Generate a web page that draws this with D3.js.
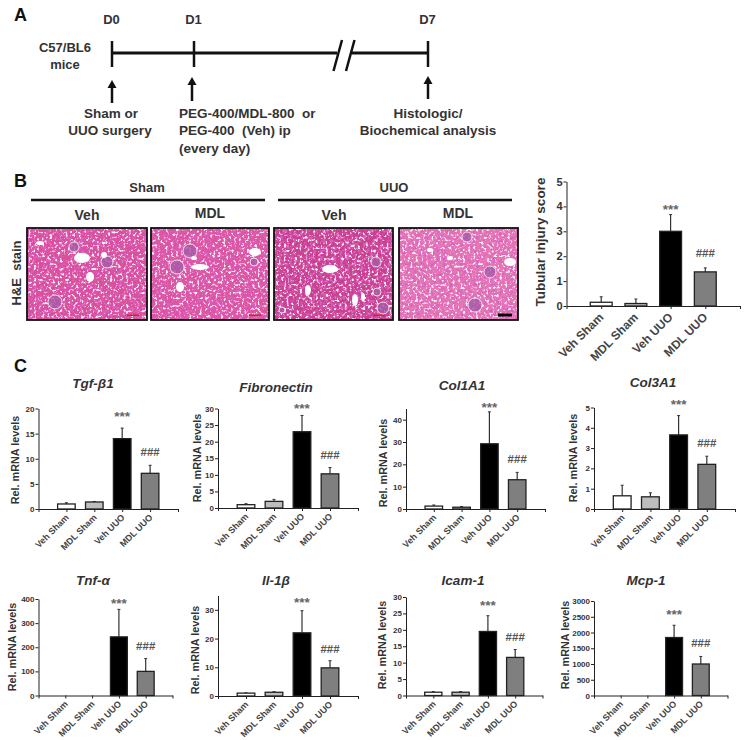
<!DOCTYPE html>
<html>
<head>
<meta charset="utf-8">
<script src="https://cdnjs.cloudflare.com/ajax/libs/d3/7.8.5/d3.min.js"></script>
<style>
body { margin: 0; background: #fff; }
text { font-family: "Liberation Sans", Arial, sans-serif; fill: #333; }
</style>
</head>
<body>
<div id="mainDiv"></div>
<script>
'use strict';

//categorias e valores
var groups = ['Veh Sham', 'MDL Sham', 'Veh UUO', 'MDL UUO'];
var scoreMean = [0.15, 0.1, 3.0, 1.37],  scoreErr = [0.22, 0.18, 0.67, 0.16];
var tgfMean = [1.0, 1.4, 14, 7.1],       tgfErr = [0.25, 0.1, 2.1, 1.6];
var fibMean = [1.0, 2.0, 23, 10.3],      fibErr = [0.3, 0.6, 4.9, 1.9];
var col1Mean = [1.3, 0.8, 29.2, 13.1],   col1Err = [0.5, 0.3, 14.3, 3.3];
var col3Mean = [0.65, 0.6, 3.65, 2.2],   col3Err = [0.52, 0.2, 0.95, 0.4];
var tnfMean = [0, 0, 243, 100],          tnfErr = [0, 0, 114, 53];
var il1Mean = [1.0, 1.3, 22, 9.8],       il1Err = [0.1, 0.2, 7.7, 2.5];
var icamMean = [1.0, 1.0, 19.5, 11.6],   icamErr = [0.2, 0.2, 4.8, 2.4];
var mcpMean = [0, 0, 1840, 1000],        mcpErr = [0, 0, 390, 240];

//ticks
var scoreTicks = [0, 1, 2, 3, 4, 5];
var tgfTicks = [0, 5, 10, 15, 20];
var fibTicks = [0, 5, 10, 15, 20, 25, 30];
var col1Ticks = [0, 10, 20, 30, 40];
var col3Ticks = [0, 1, 2, 3, 4, 5];
var tnfTicks = [0, 100, 200, 300, 400];
var il1Ticks = [0, 10, 20, 30];
var icamTicks = [0, 5, 10, 15, 20, 25, 30];
var mcpTicks = [0, 500, 1000, 1500, 2000, 2500, 3000];

var barColors = ['#ffffff', '#bdbdbd', '#000000', '#7f7f7f'];

//posição de cada gráfico na figura
var charts = [
    {title: 'Tgf-β1', mean: tgfMean, err: tgfErr, ticks: tgfTicks, max: 20, x0: 38.5, x1: 178, y0: 509, y1: 408.5, tx: 93, ty: 388, lx: 15, ly: 460, star: 13, hash: 9},
    {title: 'Fibronectin', mean: fibMean, err: fibErr, ticks: fibTicks, max: 30, x0: 218, x1: 358, y0: 508, y1: 408.5, tx: 276, ty: 392, lx: 197, ly: 458, star: 8, hash: 9},
    {title: 'Col1A1', mean: col1Mean, err: col1Err, ticks: col1Ticks, max: 45, x0: 406, x1: 545, y0: 509, y1: 408.5, tx: 462, ty: 390, lx: 383, ly: 463, star: 6, hash: 9},
    {title: 'Col3A1', mean: col3Mean, err: col3Err, ticks: col3Ticks, max: 5, x0: 594, x1: 735, y0: 509, y1: 407.5, tx: 653, ty: 387, lx: 573, ly: 458, star: 13, hash: 9},
    {title: 'Tnf-α', mean: tnfMean, err: tnfErr, ticks: tnfTicks, max: 400, x0: 38.5, x1: 172.5, y0: 695.5, y1: 599, tx: 93, ty: 585, lx: 12, ly: 647, star: 7, hash: 9},
    {title: 'Il-1β', mean: il1Mean, err: il1Err, ticks: il1Ticks, max: 35, x0: 218, x1: 358, y0: 696, y1: 595.5, tx: 276, ty: 585, lx: 195, ly: 650, star: 10, hash: 8},
    {title: 'Icam-1', mean: icamMean, err: icamErr, ticks: icamTicks, max: 30, x0: 406, x1: 542.5, y0: 695.5, y1: 597, tx: 463, ty: 585, lx: 382, ly: 645, star: 12, hash: 9},
    {title: 'Mcp-1', mean: mcpMean, err: mcpErr, ticks: mcpTicks, max: 3000, x0: 594, x1: 727.5, y0: 695.5, y1: 601, tx: 646, ty: 585, lx: 565, ly: 645, star: 12, hash: 9}
];
var scoreChart = {mean: scoreMean, err: scoreErr, ticks: scoreTicks, max: 5, x0: 566.5, x1: 740, y0: 306, y1: 181.5, lx: 540, ly: 242, star: 7, hash: 11,
    label: 'Tubular injury score', big: true};

var svg = d3.select('#mainDiv').append('svg').attr('width', 745).attr('height', 740);

function txt(s, x, y, size, anchor, weight, style)
{
    return svg.append('text')
        .attr('x', x).attr('y', y)
        .attr('text-anchor', anchor || 'middle')
        .style('font-size', size + 'px')
        .style('font-weight', weight || 'bold')
        .style('font-style', style || 'normal')
        .text(s);
}

function drawBarChart(c)
{
    var slots = ['start'].concat(groups, ['end']);
    var xScale = d3.scalePoint().domain(slots).range([c.x0, c.x1]);
    var yScale = d3.scaleLinear().domain([0, c.max]).range([c.y0, c.y1]);
    var barW = xScale.step() * 0.63;
    var g = svg.append('g');

    //barra de erro primeiro, a barra cobre a metade de baixo
    groups.forEach(function(d, i) {
        if (c.mean[i] == 0) return;
        var top = yScale(c.mean[i] + c.err[i]);
        g.append('line').attr('x1', xScale(d)).attr('x2', xScale(d)).attr('y1', top).attr('y2', yScale(c.mean[i]))
            .attr('stroke', '#333').attr('stroke-width', 1.2);
        g.append('line').attr('x1', xScale(d) - 1.5).attr('x2', xScale(d) + 1.5).attr('y1', top).attr('y2', top)
            .attr('stroke', '#333').attr('stroke-width', 1);
        g.append('rect')
            .attr('x', xScale(d) - barW / 2).attr('width', barW)
            .attr('y', yScale(c.mean[i])).attr('height', c.y0 - yScale(c.mean[i]))
            .attr('fill', barColors[i]).attr('stroke', '#222').attr('stroke-width', 1.3);
    });

    var tickSize = c.big ? 11 : 8;
    var xAxis = d3.axisBottom(xScale).tickSize(3).tickSizeOuter(0).tickFormat('');
    var yAxis = d3.axisLeft(yScale).tickValues(c.ticks).tickSize(3).tickSizeOuter(0).tickFormat(d3.format('d'));

    var xg = g.append('g').attr('transform', 'translate(0,' + c.y0 + ')').call(xAxis);
    var yg = g.append('g').attr('transform', 'translate(' + c.x0 + ',0)').call(yAxis);
    yg.selectAll('text').attr('x', -4).style('font-size', tickSize + 'px').style('font-weight', 'bold').style('font-family', '"Liberation Sans"');
    xg.selectAll('line').attr('stroke', '#222');
    yg.selectAll('line').attr('stroke', '#222');
    xg.select('.domain').attr('stroke', '#222');
    yg.select('.domain').attr('stroke', '#222');

    //rótulos do eixo x, inclinados
    groups.forEach(function(d) {
        var lx = xScale(d) + 3;
        var ly = c.y0 + (c.big ? 12 : 9);
        svg.append('text')
            .attr('text-anchor', 'end')
            .attr('transform', 'translate(' + lx + ',' + ly + ') rotate(-45)')
            .style('font-size', (c.big ? 12 : 9) + 'px')
            .style('font-weight', 'bold')
            .style('fill', '#444')
            .text(d);
    });

    svg.append('text')
        .attr('text-anchor', 'middle')
        .attr('transform', 'translate(' + c.lx + ',' + c.ly + ') rotate(-90)')
        .attr('dy', '0.35em')
        .style('font-size', (c.big ? 13.5 : 10.8) + 'px')
        .style('font-weight', 'bold')
        .text(c.label || 'Rel. mRNA levels');

    txt('***', xScale(groups[2]), yScale(c.mean[2] + c.err[2]) - c.star + 6, 13.5).style('fill', '#666');
    txt('###', xScale(groups[3]), yScale(c.mean[3] + c.err[3]) - c.hash, 11.5).style('fill', '#555');

    if (c.title) txt(c.title, c.tx, c.ty, 13.5, 'middle', 'bold', 'italic');
}

//painel A, linha do tempo
function drawTimeline()
{
    var days = ['D0', 'D1', 'D7'];
    var dayScale = d3.scaleOrdinal().domain(days).range([112, 194, 428]);
    var g = svg.append('g').attr('stroke', '#111').attr('stroke-width', 3).attr('fill', 'none');
    g.append('path').attr('d', 'M112,53H337M352,53H428');
    g.append('path').attr('d', 'M342,40L333.5,71M354.5,40L346,71').attr('stroke-width', 2.5);
    days.forEach(function(d) {
        g.append('line').attr('x1', dayScale(d)).attr('x2', dayScale(d)).attr('y1', 41).attr('y2', 67).attr('stroke-width', 2.5);
        txt(d, dayScale(d) - 0.5, 24, 13);
    });
    var arrows = [[112, 103, 80], [192, 101, 77], [428, 99, 76]];
    arrows.forEach(function(a) {
        g.append('line').attr('x1', a[0]).attr('x2', a[0]).attr('y1', a[1]).attr('y2', a[2] + 4).attr('stroke-width', 2.5);
        g.append('path').attr('d', 'M' + (a[0] - 4.5) + ',' + (a[2] + 8) + 'L' + a[0] + ',' + a[2] + 'L' + (a[0] + 4.5) + ',' + (a[2] + 8) + 'Z')
            .attr('fill', '#111').attr('stroke', 'none');
    });
    txt('A', 14, 21, 18, 'start').style('fill', '#111');
    txt('C57/BL6', 65, 52, 13);
    txt('mice', 65, 69, 13);
    txt('Sham or', 111, 118, 13.5);
    txt('UUO surgery', 110, 135, 13.5);
    txt('PEG-400/MDL-800  or', 179, 118, 13.5, 'start').style('white-space', 'pre');
    txt('PEG-400  (Veh) ip', 179, 135, 13.5, 'start').style('white-space', 'pre');
    txt('(every day)', 179, 153, 13.5, 'start');
    txt('Histologic/', 428, 118, 13.5);
    txt('Biochemical analysis', 428, 135, 13.5);
}

//painel B, lâminas H&E (textura aproximada)
var slideBoxes = [[27, 147], [151, 269], [274, 393], [399, 518]];
var slideBase = ['#d9509c', '#dc55a0', '#c9408f', '#e576b4'];
var slideLumens = [
    [[82, 258, 8, 5], [90, 277, 4, 5], [40, 243, 4, 2], [104, 255, 3, 3]],
    [[255, 252, 6, 4], [200, 267, 9, 3], [180, 287, 4, 5], [194, 258, 3, 2]],
    [[330, 269, 8, 4], [308, 290, 3, 5], [355, 300, 3, 6], [363, 297, 2, 4]],
    [[510, 262, 6, 4], [430, 250, 3, 2], [450, 258, 3, 2]]
];
var slideGlom = [
    [[74, 247, 5], [107, 262, 6], [55, 302, 7]],
    [[190, 251, 7], [177, 267, 7], [254, 262, 4]],
    [[376, 262, 5], [383, 308, 6], [377, 292, 4], [282, 310, 3]],
    [[490, 272, 6], [475, 305, 7], [467, 237, 5]]
];

function drawSlides()
{
    var defs = svg.append('defs');
    var f1 = defs.append('filter').attr('id', 'holes').attr('x', 0).attr('y', 0).attr('width', 1).attr('height', 1);
    f1.append('feTurbulence').attr('type', 'fractalNoise').attr('baseFrequency', 0.38).attr('numOctaves', 2).attr('seed', 4);
    f1.append('feColorMatrix').attr('type', 'matrix').attr('values', '0 0 0 0 1  0 0 0 0 0.9  0 0 0 0 0.96  6 0 0 0 -3.3');
    var f2 = defs.append('filter').attr('id', 'dark').attr('x', 0).attr('y', 0).attr('width', 1).attr('height', 1);
    f2.append('feTurbulence').attr('type', 'fractalNoise').attr('baseFrequency', 0.3).attr('numOctaves', 2).attr('seed', 11);
    f2.append('feColorMatrix').attr('type', 'matrix').attr('values', '0 0 0 0 0.68  0 0 0 0 0.12  0 0 0 0 0.55  0 4 0 0 -1.9');
    var f3 = defs.append('filter').attr('id', 'soft');
    f3.append('feGaussianBlur').attr('stdDeviation', 0.55);

    slideBoxes.forEach(function(b, i) {
        var g = svg.append('g');
        var w = b[1] - b[0];
        var inner = g.append('g').attr('filter', 'url(#soft)');
        inner.append('rect').attr('x', b[0]).attr('y', 228).attr('width', w).attr('height', 92).attr('fill', slideBase[i]);
        inner.append('rect').attr('x', b[0]).attr('y', 228).attr('width', w).attr('height', 92).attr('filter', 'url(#dark)');
        inner.append('rect').attr('x', b[0]).attr('y', 228).attr('width', w).attr('height', 92).attr('filter', 'url(#holes)');
        slideGlom[i].forEach(function(p) {
            inner.append('circle').attr('cx', p[0]).attr('cy', p[1]).attr('r', p[2])
                .attr('fill', '#a65aa8').attr('fill-opacity', 0.8).attr('stroke', '#f3dcec').attr('stroke-width', 1);
        });
        slideLumens[i].forEach(function(p) {
            inner.append('ellipse').attr('cx', p[0]).attr('cy', p[1]).attr('rx', p[2]).attr('ry', p[3]).attr('fill', '#fff');
        });
        g.append('rect').attr('x', b[0]).attr('y', 228).attr('width', w).attr('height', 92)
            .attr('fill', 'none').attr('stroke', '#111').attr('stroke-width', 1.8);
        if (i < 3) {
            g.append('rect').attr('x', b[1] - 20).attr('y', 314.5).attr('width', 12).attr('height', 1.5).attr('fill', '#e02020');
        } else {
            g.append('rect').attr('x', 498).attr('y', 313.5).attr('width', 14).attr('height', 3).attr('fill', '#000');
        }
    });
}

function drawPanelB()
{
    txt('B', 14, 187, 18, 'start').style('fill', '#111');
    txt('Sham', 147, 192, 13);
    txt('UUO', 394, 192, 13);
    svg.append('path').attr('d', 'M31,200H265M278,200H512').attr('stroke', '#111').attr('stroke-width', 2.5).attr('fill', 'none');
    txt('Veh', 87, 220, 14);
    txt('MDL', 210, 218, 14);
    txt('Veh', 334, 220, 14);
    txt('MDL', 458, 218, 14);
    svg.append('text')
        .attr('text-anchor', 'middle')
        .attr('transform', 'translate(21,273) rotate(-90)')
        .style('font-size', '13px')
        .style('font-weight', 'bold')
        .style('white-space', 'pre')
        .text('H&E  stain');
    drawSlides();
    drawBarChart(scoreChart);
}

drawTimeline();
drawPanelB();
txt('C', 14, 372, 18, 'start').style('fill', '#111');
charts.forEach(drawBarChart);
</script>
</body>
</html>
